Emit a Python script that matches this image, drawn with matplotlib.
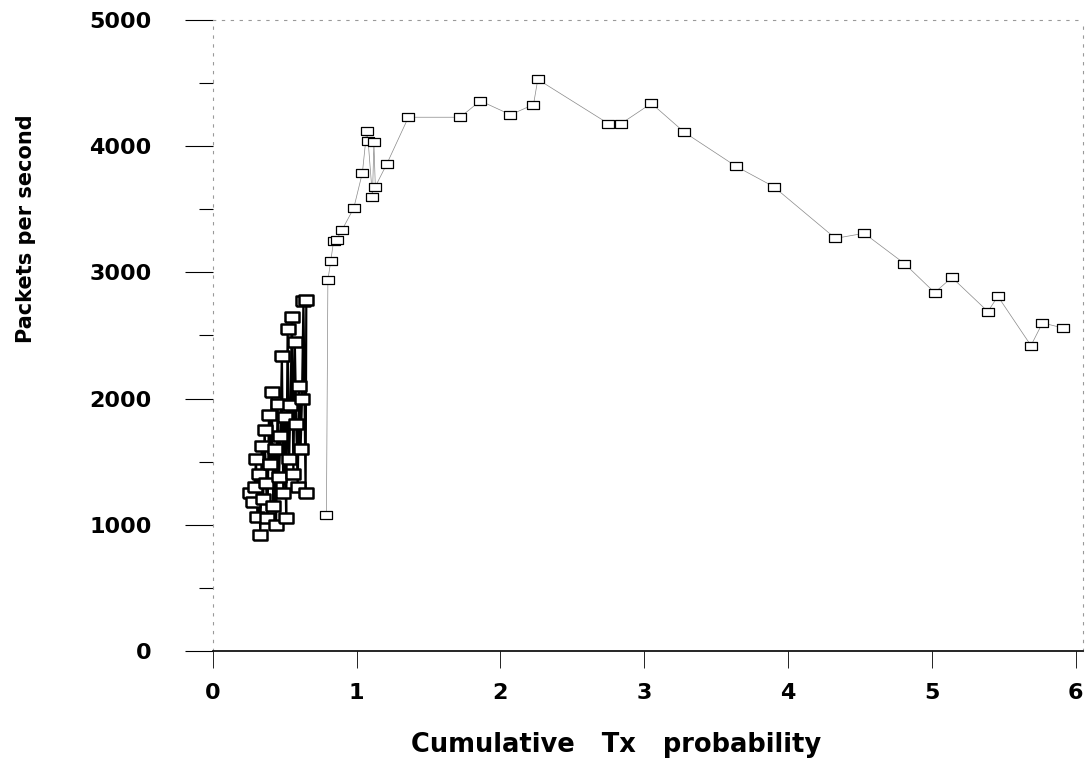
"""Packets per second vs cumulative Tx probability (scanned-style line plot)."""

import matplotlib

matplotlib.use("Agg")
import matplotlib.pyplot as plt
import numpy as np

# low-probability cluster (first run)
cluster_x = [0.26, 0.28, 0.29, 0.30, 0.31, 0.32, 0.33, 0.34, 0.35, 0.36,
             0.37, 0.38, 0.39, 0.40, 0.41, 0.42, 0.43, 0.44, 0.45, 0.46,
             0.47, 0.48, 0.49, 0.50, 0.51, 0.52, 0.53, 0.54, 0.55, 0.56,
             0.57, 0.58, 0.59, 0.60, 0.61, 0.62, 0.63, 0.645, 0.65]
cluster_y = [1250, 1180, 1300, 1520, 1060, 1400, 920, 1620, 1200, 1750,
             1330, 1050, 1870, 1480, 2050, 1150, 1600, 1000, 1960, 1380,
             1700, 2340, 1250, 1850, 1050, 2550, 1520, 1950, 2650, 1400,
             2450, 1800, 1300, 2100, 1600, 2000, 2770, 1250, 2780]

# second run, rising then falling
tail_x = [0.79, 0.80, 0.82, 0.84, 0.86, 0.90, 0.98, 1.04, 1.07, 1.08,
          1.11, 1.12, 1.13, 1.21, 1.36, 1.72, 1.86, 2.07, 2.23, 2.26,
          2.75, 2.84, 3.05, 3.28, 3.64, 3.90, 4.33, 4.53, 4.81, 5.02,
          5.14, 5.39, 5.46, 5.69, 5.77, 5.91]
tail_y = [1080, 2940, 3090, 3250, 3260, 3340, 3510, 3790, 4120, 4040,
          3600, 4030, 3680, 3860, 4230, 4230, 4360, 4250, 4330, 4530,
          4180, 4180, 4340, 4110, 3840, 3680, 3270, 3310, 3070, 2840,
          2960, 2690, 2810, 2420, 2600, 2560]

x_ticks = [0, 1, 2, 3, 4, 5, 6]
y_ticks = [0, 1000, 2000, 3000, 4000, 5000]

plt.rcParams["font.family"] = ["DejaVu Sans"]
plt.rcParams["font.weight"] = "bold"

fig = plt.figure(figsize=(10.86, 7.73), dpi=100)
ax = fig.add_axes([0.196, 0.158, 0.801, 0.816])

# flat open rectangle marker, as in the scanned original
rect = [(-1, -0.65), (1, -0.65), (1, 0.65), (-1, 0.65), (-1, -0.65)]
ax.plot(cluster_x, cluster_y, color="black", lw=1.6,
        marker=rect, ms=10, mfc="white", mec="black", mew=1.8)
ax.plot(tail_x, tail_y, color="#888888", lw=0.5,
        marker=rect, ms=9, mfc="white", mec="black", mew=0.9)

ax.set_xlim(0, 6.05)
ax.set_ylim(0, 5000)
ax.set_xticks(x_ticks)
ax.set_yticks(y_ticks)
ax.set_yticks(np.arange(500, 5000, 1000), minor=True)
ax.tick_params(axis="x", which="major", direction="out", length=12,
               width=0.6, labelsize=16, pad=11, colors="black")
ax.tick_params(axis="y", which="major", direction="out", length=20,
               width=0.8, labelsize=16, pad=24, colors="black")
ax.tick_params(axis="y", which="minor", direction="out", length=10, width=0.8)
for lab in ax.get_xticklabels() + ax.get_yticklabels():
    lab.set_fontweight("bold")

for side in ("top", "left", "right"):
    ax.spines[side].set_color("#999999")
    ax.spines[side].set_linestyle((0, (2, 6)))
    ax.spines[side].set_linewidth(0.8)
ax.spines["bottom"].set_color("black")
ax.spines["bottom"].set_linewidth(1.2)

ax.set_xlabel("Cumulative   Tx   probability", fontsize=18.5, fontweight="bold")
ax.set_ylabel("Packets per second", fontsize=15, fontweight="bold")
ax.xaxis.set_label_coords(0.464, -0.128)
ax.yaxis.set_label_coords(-0.203, 0.67)

fig.savefig("out.png", dpi=100)
